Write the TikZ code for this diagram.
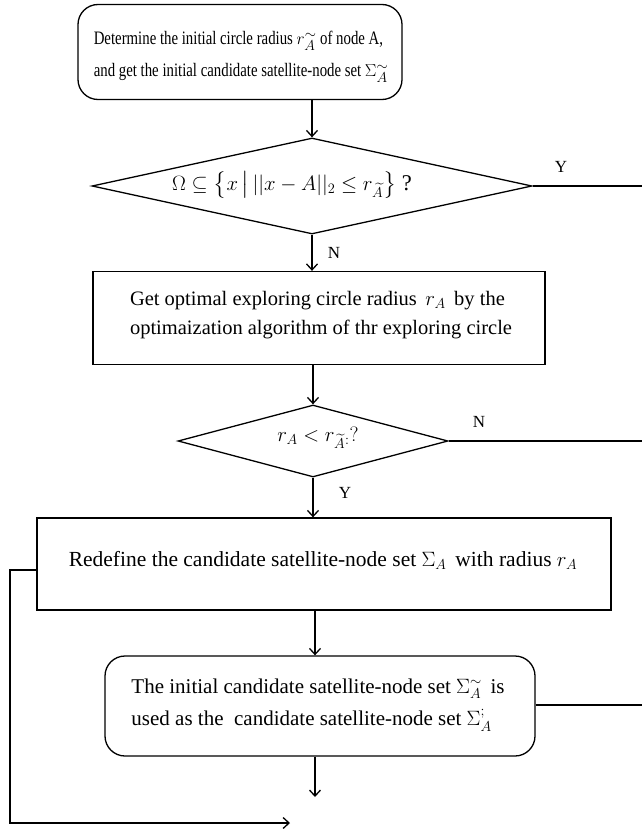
\documentclass[tikz,border=0pt]{standalone}
\usepackage{amsmath,amssymb}
\usepackage{fontspec}
\setmainfont{Liberation Serif}
\newfontfamily\narrowserif[FakeStretch=0.78]{Liberation Serif}
\usetikzlibrary{shapes.geometric,arrows.meta}
\tikzset{
  box/.style={draw,line width=1.3pt,inner sep=0pt,align=center},
  rbox/.style={box,rounded corners=20pt},
  dec/.style={draw,line width=1.3pt,shape=diamond,inner sep=0pt},
  line/.style={line width=1.3pt},
  arr/.style={line width=1.3pt,-{Straight Barb[length=6pt,width=11pt,line width=1.3pt]}},
  lab/.style={font=\fontsize{17}{20}\selectfont},
  txt/.style={align=left,inner sep=0pt}
}
\begin{document}
\begin{tikzpicture}[x=1pt,y=-1pt]
\useasboundingbox (0,0) rectangle (642,829);
\node[rbox,minimum width=324pt,minimum height=95pt] (b1) at (240,52) {};
\node[txt,font=\narrowserif\fontsize{19}{32}\selectfont] (b1t) at (241,57)
  {Determine the initial circle radius $r^{\sim}_{A}$ of node A,\\and get the initial candidate satellite-node set $\Sigma^{\sim}_{A}$};
\node[dec,minimum width=440pt,minimum height=96pt,aspect=4.6] (d1) at (312,186) {};
\node[txt,font=\fontsize{22.5}{26}\selectfont] (d1t) at (292,185) {$\Omega\subseteq\left\{x\,\middle|\,||x-A||_2\leq r_{\widetilde{A}}\right\}$ ?};
\node[box,minimum width=452pt,minimum height=93pt] (b2) at (319,318) {};
\node[txt,font=\fontsize{20.5}{29}\selectfont] (b2t) at (321,315)
  {Get optimal exploring circle radius\, $r_A$\, by the\\optimaization algorithm of thr exploring circle};
\node[dec,minimum width=270pt,minimum height=72pt,aspect=3.75] (d2) at (313,441) {};
\node[txt,font=\fontsize{22.5}{27}\selectfont] (d2t) at (318,438) {$r_A<r_{\widetilde{A}}{}_{:}?$};
\node[box,minimum width=574pt,minimum height=92pt] (b3) at (324,564) {};
\node[txt,font=\fontsize{21.5}{24}\selectfont] (b3t) at (323,560) {Redefine the candidate satellite-node set $\Sigma_{A}$\, with radius $r_{A}$};
\node[rbox,minimum width=430pt,minimum height=100pt] (b4) at (320,706) {};
\node[txt,font=\fontsize{21}{32}\selectfont] (b4t) at (318,705)
  {The initial candidate satellite-node set $\Sigma^{\sim}_{A}$\, is\\used as the\ \ candidate satellite-node set $\Sigma^{;}_{A}$};
% labels
\node[lab] (y1) at (561,167) {Y};
\node[lab] (n1) at (334,253) {N};
\node[lab] (n2) at (479,422) {N};
\node[lab] (y2) at (345,493) {Y};
% coordinates
\coordinate (e1) at (642,186);
\coordinate (e2) at (642,441);
\coordinate (e4) at (642,705);
\coordinate (l0) at (37,570);
\coordinate (l1) at (10,570);
\coordinate (l2) at (10,823);
\coordinate (l3) at (290,823);
\coordinate (end) at (315,797);
% connectors
\draw[arr] (b1.south -| d1.north) -- (d1.north);
\draw[arr] (d1.south) -- (d1.south |- b2.north);
\draw[arr] (b2.south -| d2.north) -- (d2.north);
\draw[arr] (d2.south) -- (d2.south |- b3.north);
\draw[arr] (b3.south -| end) -- (b4.north -| end);
\draw[arr] (b4.south -| end) -- (end);
\draw[line] (d1.east) -- (e1);
\draw[line] (d2.east) -- (e2);
\draw[line] (b4.east |- e4) -- (e4);
\draw[arr] (l0) -- (l1) -- (l2) -- (l3);
\end{tikzpicture}
\end{document}
